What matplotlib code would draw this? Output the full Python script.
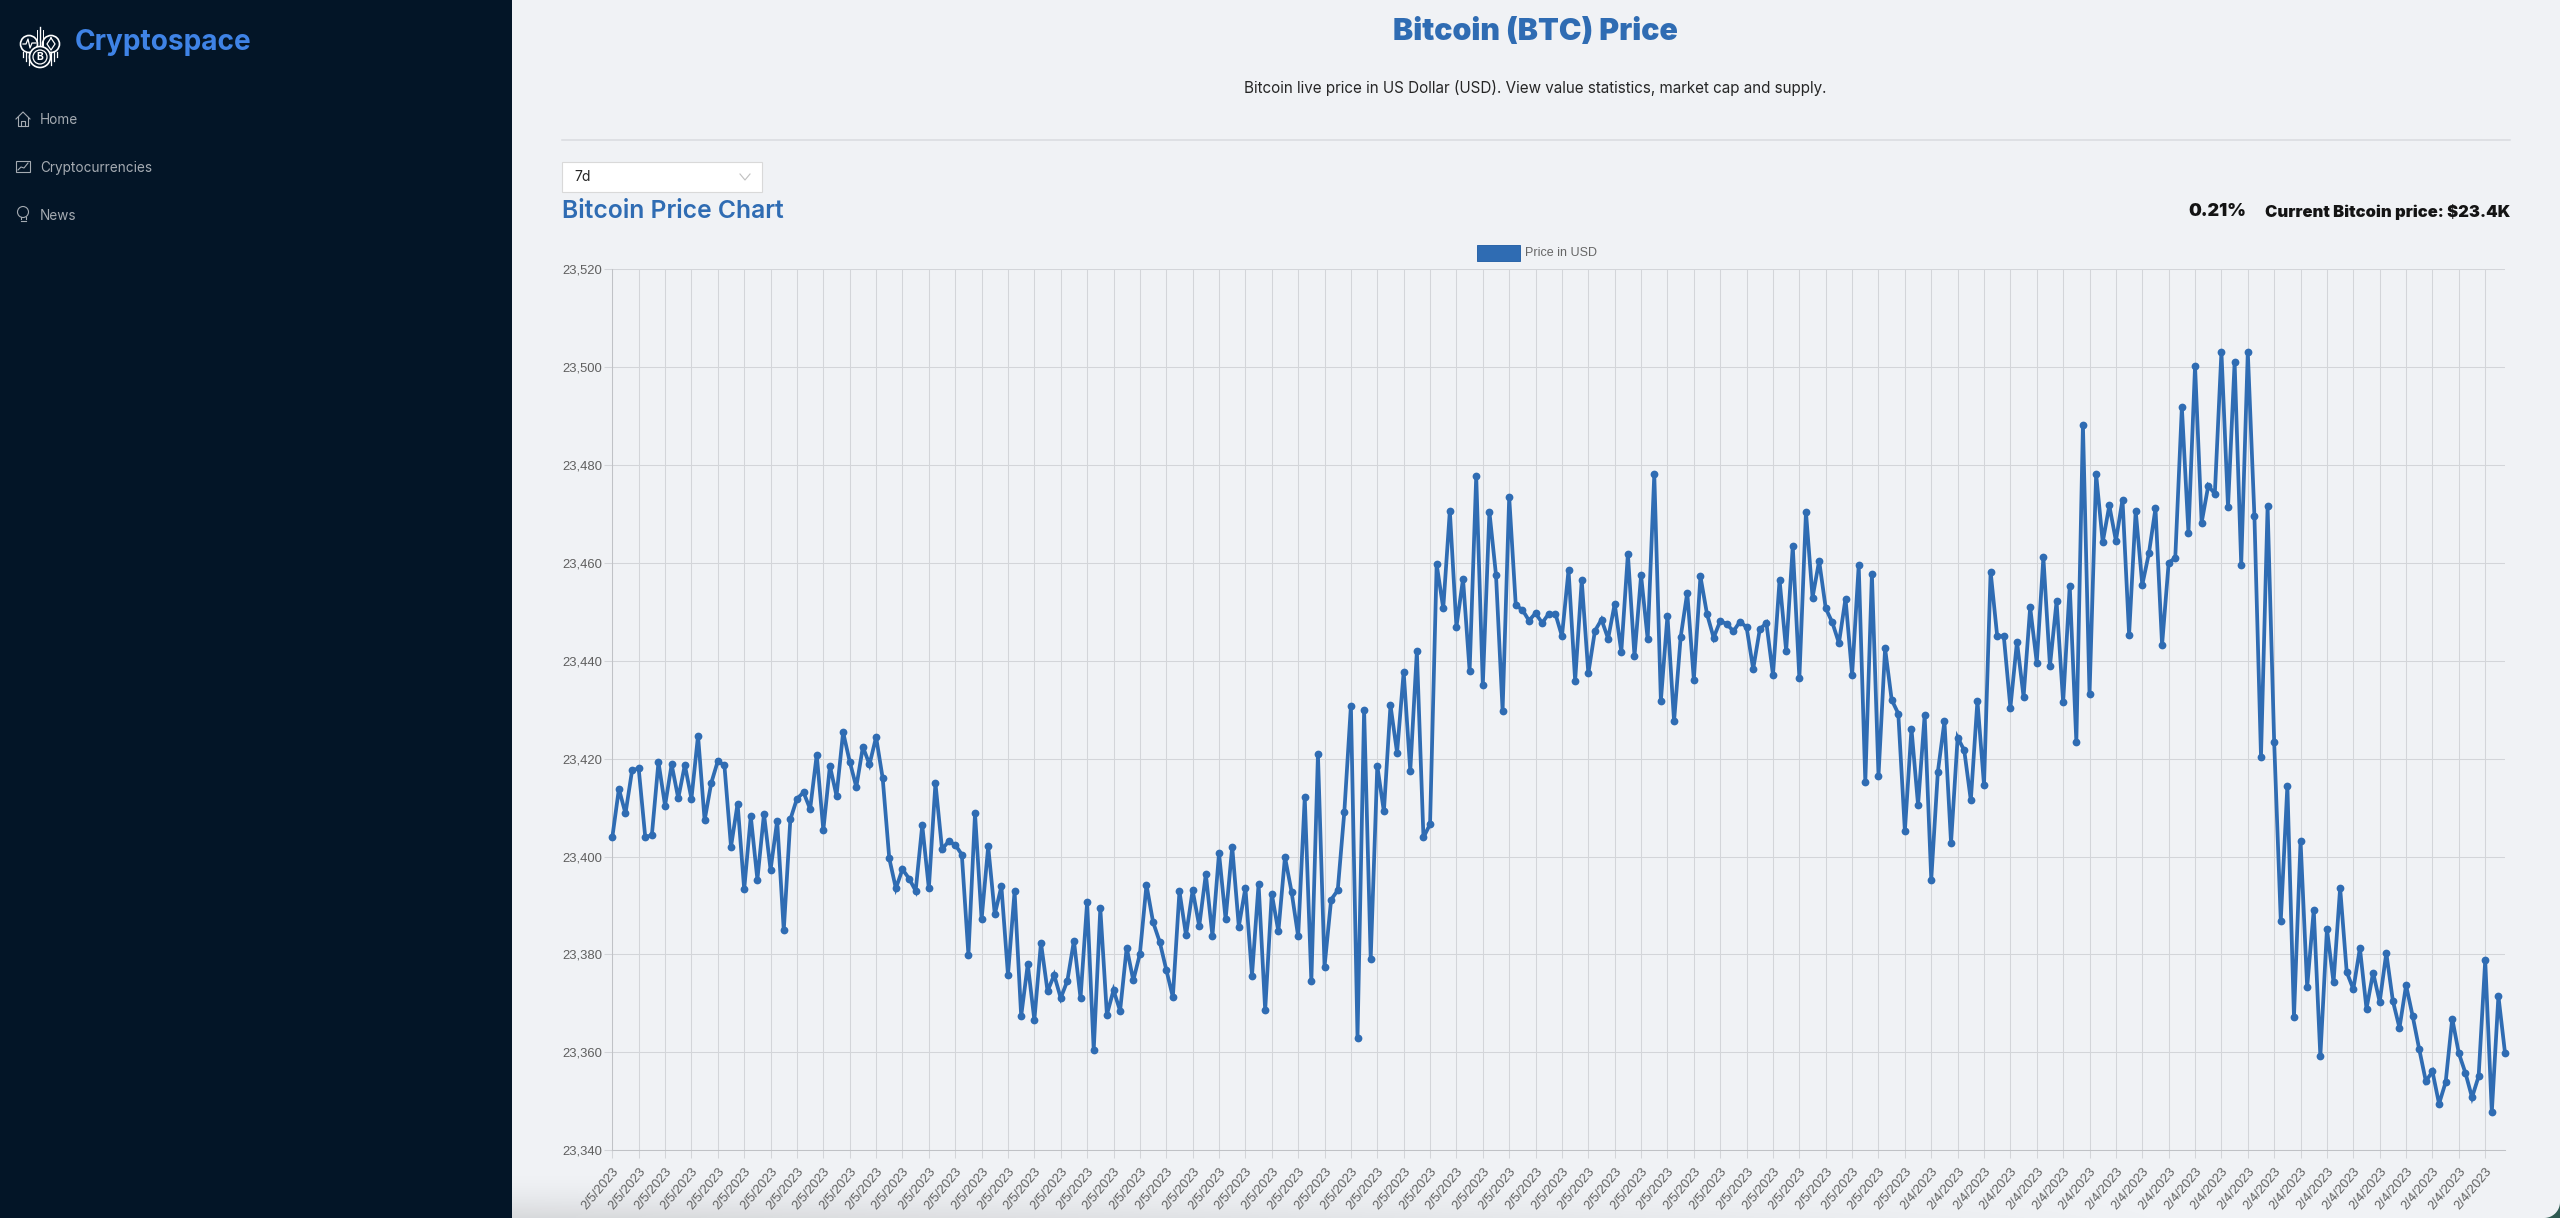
"""
Bitcoin price page: sidebar, header texts and the 7d line chart
"""  # -*- coding: utf-8 -*-
import numpy as np
import matplotlib
matplotlib.use('Agg')
import matplotlib.pyplot as plt
from matplotlib.patches import Circle, Polygon, Rectangle
from matplotlib.ticker import FuncFormatter

PRICES = [
    23403.9, 23413.8, 23408.8, 23417.6, 23418.0, 23403.9, 23404.4, 23419.3, 23410.4, 23418.8,
    23411.9, 23418.7, 23411.8, 23424.7, 23407.4, 23415.0, 23419.5, 23418.6, 23402.0, 23410.8,
    23393.3, 23408.2, 23395.3, 23408.7, 23397.3, 23407.3, 23384.9, 23407.6, 23411.8, 23413.1,
    23409.7, 23420.8, 23405.4, 23418.5, 23412.4, 23425.4, 23419.4, 23414.2, 23422.4, 23418.8,
    23424.4, 23416.0, 23399.6, 23393.5, 23397.4, 23395.5, 23393.0, 23406.4, 23393.5, 23415.0,
    23401.5, 23403.1, 23402.4, 23400.4, 23379.9, 23408.8, 23387.2, 23402.1, 23388.2, 23393.9,
    23375.8, 23392.9, 23367.4, 23378.0, 23366.6, 23382.4, 23372.5, 23375.8, 23371.1, 23374.6,
    23382.8, 23371.1, 23390.7, 23360.4, 23389.4, 23367.7, 23372.7, 23368.5, 23381.4, 23374.7,
    23380.1, 23394.2, 23386.6, 23382.6, 23376.9, 23371.3, 23392.9, 23383.9, 23393.1, 23385.8,
    23396.4, 23383.8, 23400.7, 23387.2, 23402.0, 23385.7, 23393.6, 23375.7, 23394.4, 23368.6,
    23392.4, 23384.7, 23399.9, 23392.8, 23383.7, 23412.1, 23374.5, 23420.9, 23377.5, 23391.2,
    23393.1, 23409.1, 23430.8, 23363.0, 23430.0, 23379.1, 23418.5, 23409.2, 23430.9, 23421.2,
    23437.7, 23417.5, 23441.9, 23403.9, 23406.6, 23459.7, 23450.7, 23470.6, 23446.9, 23456.7,
    23437.9, 23477.7, 23435.0, 23470.4, 23457.5, 23429.8, 23473.4, 23451.3, 23450.4, 23448.2,
    23449.7, 23447.7, 23449.6, 23449.6, 23445.0, 23458.5, 23435.9, 23456.4, 23437.4, 23446.1,
    23448.4, 23444.5, 23451.6, 23441.8, 23461.8, 23440.9, 23457.4, 23444.4, 23478.1, 23431.8,
    23449.2, 23427.6, 23444.8, 23453.9, 23436.1, 23457.2, 23449.5, 23444.7, 23448.1, 23447.5,
    23446.0, 23448.0, 23446.8, 23438.3, 23446.4, 23447.7, 23437.1, 23456.5, 23442.0, 23463.4,
    23436.4, 23470.4, 23452.9, 23460.4, 23450.7, 23447.8, 23443.6, 23452.7, 23437.1, 23459.5,
    23415.2, 23457.7, 23416.5, 23442.5, 23432.0, 23429.2, 23405.2, 23426.1, 23410.5, 23428.9,
    23395.3, 23417.3, 23427.6, 23402.8, 23424.3, 23421.7, 23411.5, 23431.8, 23414.6, 23458.2,
    23445.0, 23445.0, 23430.4, 23443.9, 23432.6, 23450.9, 23439.6, 23461.1, 23438.9, 23452.1,
    23431.5, 23455.3, 23423.4, 23488.2, 23433.1, 23478.1, 23464.2, 23471.7, 23464.5, 23472.9,
    23445.3, 23470.6, 23455.5, 23461.9, 23471.1, 23443.2, 23460.0, 23461.0, 23491.8, 23466.1,
    23500.2, 23468.2, 23475.7, 23474.1, 23503.1, 23471.3, 23501.0, 23459.6, 23503.1, 23469.6,
    23420.4, 23471.5, 23423.3, 23386.9, 23414.5, 23367.2, 23403.2, 23373.3, 23389.1, 23359.2,
    23385.2, 23374.3, 23393.6, 23376.4, 23372.9, 23381.3, 23368.9, 23376.3, 23370.3, 23380.3,
    23370.5, 23365.0, 23373.7, 23367.4, 23360.6, 23354.1, 23356.1, 23349.5, 23353.9, 23366.9,
    23359.8, 23355.8, 23350.8, 23355.1, 23378.8, 23347.8, 23371.5, 23359.9,
]
DATE_LABELS = ['2/5/2023'] * 50 + ['2/4/2023'] * 22
Y_TICKS = [23340, 23360, 23380, 23400, 23420, 23440, 23460, 23480, 23500, 23520]
MENU_ITEMS = ['Home', 'Cryptocurrencies', 'News']

W, H = 2560, 1218
BLUE = '#2f6cb3'
GRID = '#d3d5d9'
SANS = ['Inter', 'DejaVu Sans']
CHART_FONT = 'Liberation Sans'


def px(size):
    # css pixels to points, figure is at 100 dpi
    return size * 0.72


FIG = plt.figure(figsize=(W / 100, H / 100), dpi=100, facecolor='#f0f2f5')

# page layer in pixel coords
BG = FIG.add_axes([0, 0, 1, 1], zorder=0)
BG.set_xlim(0, W)
BG.set_ylim(H, 0)
BG.axis('off')

# shadow along the bottom of the window
yy, xx = np.mgrid[1165:H, 512:W]
shade = np.zeros(yy.shape + (4,))
shade[..., 3] = 0.11 * ((yy - 1165) / 53.0) ** 2 * np.clip(1 - (xx - 512) / 1700.0, 0, 1)
BG.imshow(shade, extent=(512, W, H, 1165), aspect='auto', zorder=1)
BG.set_xlim(0, W)
BG.set_ylim(H, 0)

BG.add_patch(Rectangle((0, 0), 512, H, fc='#031527', ec='none', zorder=2))

# window corner, desktop shows through
ang = np.linspace(0, np.pi / 2, 20)
corner = [(W, H)] + [(W - 16 + 16 * np.cos(a), H - 16 + 16 * np.sin(a)) for a in ang]
BG.add_patch(Polygon(corner, fc='#2f5a52', ec='none', zorder=2))

# logo
LOGO = dict(fc='none', ec='white', lw=1.2, zorder=3)
BG.add_patch(Circle((29, 44), 8.5, **LOGO))
BG.add_patch(Circle((51, 44), 8.5, **LOGO))
BG.add_patch(Circle((40, 57), 10.5, fc='#031527', ec='white', lw=1.2, zorder=4))
BG.add_patch(Circle((40, 57), 7, fc='#031527', ec='white', lw=0.9, zorder=4))
BG.text(40, 57, 'B', color='white', fontsize=7.5, fontweight='bold', ha='center', va='center',
        family=SANS, zorder=5)
BG.plot([40, 40], [27, 45], color='white', lw=1, zorder=3)
BG.plot([37, 37], [30, 45], color='white', lw=0.7, zorder=3)
BG.plot([43, 43], [30, 45], color='white', lw=0.7, zorder=3)
BG.plot([23, 26, 28, 30, 32, 36], [44, 44, 39, 48, 43, 43], color='white', lw=0.9, zorder=3)
BG.plot([51, 55, 51, 47, 51], [38, 44, 50, 44, 38], color='white', lw=0.9, zorder=3)
for x0, y1 in [(23, 57), (26, 61), (29, 65), (57, 57), (54, 61), (51, 65)]:
    BG.plot([x0, x0], [52, y1], color='white', lw=0.9, zorder=3)

BG.text(75, 43, 'Cryptospace', color='#3f83e6', fontsize=px(28), fontweight='bold',
        family=SANS, ha='left', va='center', zorder=3)

# menu
MENU_COLOR = '#a5abb2'
for label, y in zip(MENU_ITEMS, [120, 168, 216]):
    BG.text(40, y, label, color=MENU_COLOR, fontsize=px(13.6), family=SANS, ha='left',
            va='center', zorder=3)
BG.plot([16, 23, 30], [119, 112, 119], color=MENU_COLOR, lw=0.8, zorder=3)
BG.plot([18, 18, 28, 28], [117, 126, 126, 117], color=MENU_COLOR, lw=0.8, zorder=3)
BG.plot([21, 21, 25, 25], [126, 121, 121, 126], color=MENU_COLOR, lw=0.8, zorder=3)
BG.add_patch(Rectangle((16, 161), 14, 11, fc='none', ec=MENU_COLOR, lw=0.8, zorder=3))
BG.plot([18, 21, 24, 28], [170, 167, 168, 163], color=MENU_COLOR, lw=0.8, zorder=3)
BG.add_patch(Circle((23, 212), 5.5, fc='none', ec=MENU_COLOR, lw=0.8, zorder=3))
BG.plot([20.5, 20.5], [217, 219], color=MENU_COLOR, lw=0.8, zorder=3)
BG.plot([25.5, 25.5], [217, 219], color=MENU_COLOR, lw=0.8, zorder=3)
BG.plot([20.5, 25.5], [221, 221], color=MENU_COLOR, lw=0.8, zorder=3)

# header
BG.text(1535.5, 32, 'Bitcoin (BTC) Price', color=BLUE, fontsize=px(30.3), fontweight='black',
        family=SANS, ha='center', va='center', zorder=3)
BG.text(1535, 88.5, 'Bitcoin live price in US Dollar (USD). View value statistics, market cap and supply.',
        color='#262626', fontsize=px(15.2), family=SANS, ha='center', va='center', zorder=3)
BG.plot([562, 2510], [140, 140], color='#d9dbdf', lw=1.1, zorder=3)

# period select
BG.add_patch(Rectangle((562, 162), 200, 30, fc='white', ec='#d9d9d9', lw=0.8, zorder=3))
BG.text(574, 177, '7d', color='#262626', fontsize=px(14), family=SANS, ha='left', va='center', zorder=4)
BG.plot([740, 745, 750], [174, 180, 174], color='#bfbfbf', lw=0.8, zorder=4)

BG.text(562, 212, 'Bitcoin Price Chart', color=BLUE, fontsize=px(24.7), fontweight='semibold',
        family=SANS, ha='left', va='center', zorder=3)
BG.text(2510, 212, 'Current Bitcoin price: $23.4K', color='#141414', fontsize=px(16.5), fontweight='black',
        family=SANS, ha='right', va='center', zorder=3)
BG.text(2246, 212, '0.21%', color='#141414', fontsize=px(18), fontweight='black',
        family=SANS, ha='right', va='center', zorder=3)

# legend
BG.add_patch(Rectangle((1477, 245), 43, 16, fc=BLUE, ec='#2a64a8', lw=0.7, zorder=3))
BG.text(1525, 253, 'Price in USD', color='#666666', fontsize=px(12.5), family=CHART_FONT,
        ha='left', va='center', zorder=3)

# chart
X = np.arange(len(PRICES))
AX = FIG.add_axes([612.3 / W, 1 - 1150.3 / H, (2505 - 612.3) / W, (1150.3 - 269) / H], zorder=1)
AX.patch.set_alpha(0)
AX.plot(X, PRICES, color=BLUE, lw=2.7, marker='o', ms=5.6, mew=0, solid_joinstyle='miter',
        clip_on=False, zorder=3)
AX.set_xlim(0, len(PRICES) - 1)
AX.set_ylim(Y_TICKS[0], Y_TICKS[-1])
AX.set_yticks(Y_TICKS)
AX.yaxis.set_major_formatter(FuncFormatter(lambda v, _: format(int(v), ',')))
AX.set_xticks(X[::4])
AX.set_xticklabels(DATE_LABELS, rotation=50, ha='right', va='top', rotation_mode='anchor')
AX.grid(True, color=GRID, lw=0.75, zorder=0)
AX.set_axisbelow(True)
AX.tick_params(axis='both', length=6, width=0.75, color=GRID, labelcolor='#5f5f5f', labelsize=px(13))
AX.tick_params(axis='x', pad=5)
AX.tick_params(axis='y', pad=1)
for label in AX.get_xticklabels() + AX.get_yticklabels():
    label.set_family(CHART_FONT)
for side in ['top', 'right']:
    AX.spines[side].set_visible(False)
for side in ['left', 'bottom']:
    AX.spines[side].set_color('#c0c2c6')
    AX.spines[side].set_linewidth(0.75)

FIG.savefig('out.png', dpi=100, facecolor=FIG.get_facecolor())
